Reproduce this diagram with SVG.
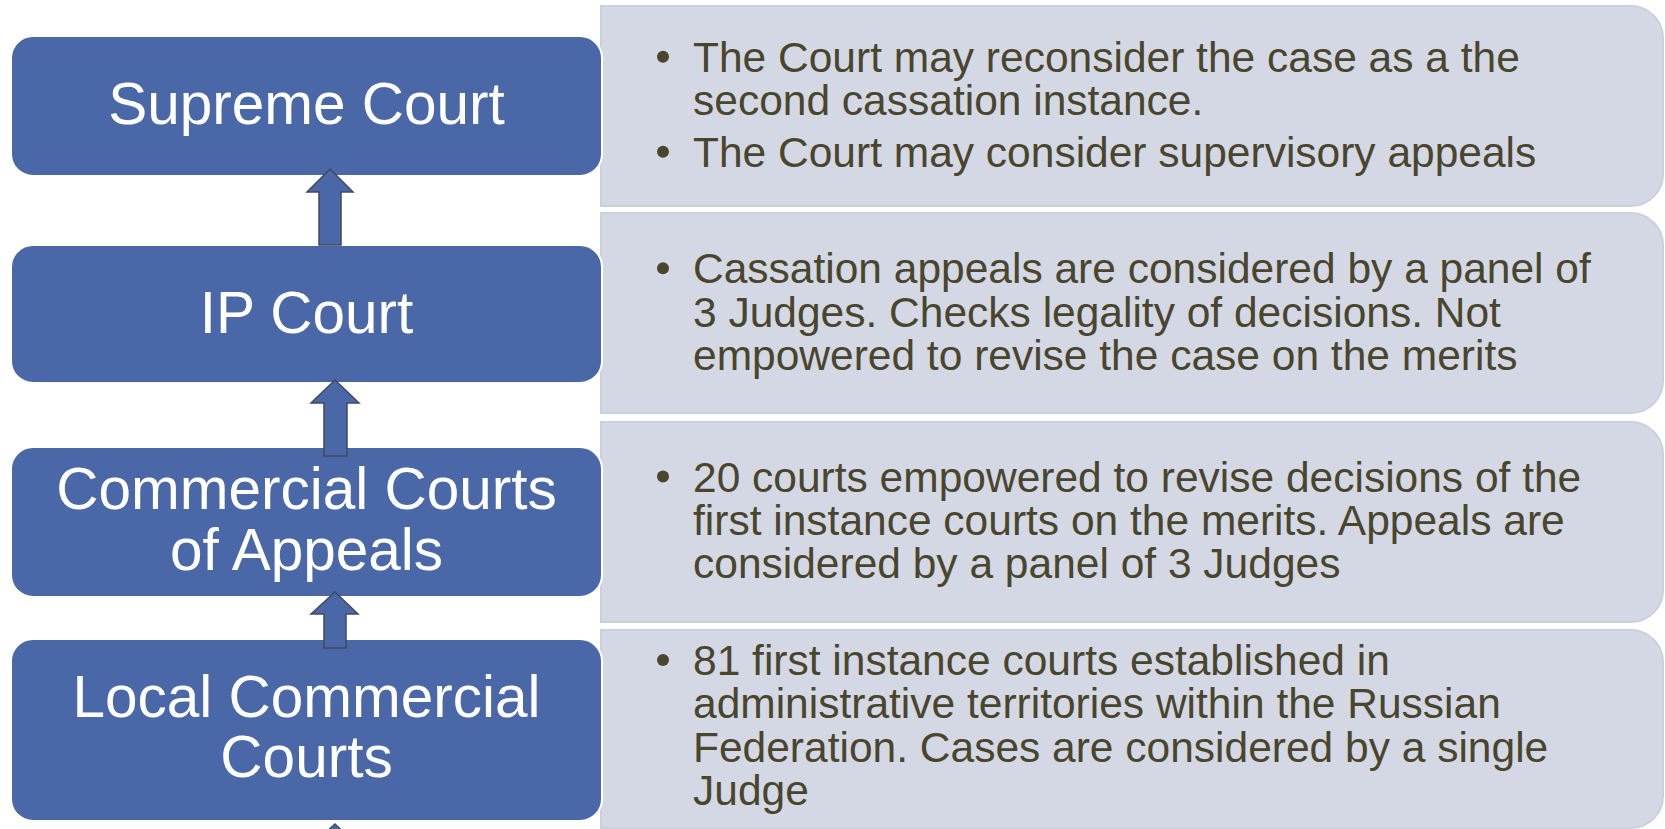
<svg xmlns="http://www.w3.org/2000/svg" width="1665" height="829" viewBox="0 0 1665 829">
<style>
.box{fill:#4a68a8;stroke:#ffffff;stroke-width:2}
.panel{fill:#d4d8e5;stroke:#cbd0df;stroke-width:2}
.bt{font-family:"Liberation Sans",Arial,sans-serif;font-size:58.5px;fill:#ffffff;text-anchor:middle}
.pt{font-family:"Liberation Sans",Arial,sans-serif;font-size:42.5px;fill:#4a452d}
.dot{fill:#4a452d}
.arr{fill:#4a68a8;stroke:#414a5c;stroke-width:1.5;stroke-linejoin:miter}
</style>
<rect width="1665" height="829" fill="#ffffff"/>
<g id="panel-supreme">
<path class="panel" d="M601,6 H1631 A32,32 0 0 1 1663,38 V174 A32,32 0 0 1 1631,206 H601 Z"/>
<circle class="dot" cx="663" cy="56.7" r="6"/>
<text class="pt" x="693" y="71.7">The Court may reconsider the case as a the</text>
<text class="pt" x="693" y="115">second cassation instance.</text>
<circle class="dot" cx="663" cy="151.7" r="6"/>
<text class="pt" x="693" y="166.7">The Court may consider supervisory appeals</text>
</g>
<g id="panel-ip">
<path class="panel" d="M601,213 H1631 A32,32 0 0 1 1663,245 V381 A32,32 0 0 1 1631,413 H601 Z"/>
<circle class="dot" cx="663" cy="268.3" r="6"/>
<text class="pt" x="693" y="283.3">Cassation appeals are considered by a panel of</text>
<text class="pt" x="693" y="326.7">3 Judges. Checks legality of decisions. Not</text>
<text class="pt" x="693" y="370">empowered to revise the case on the merits</text>
</g>
<g id="panel-appeals">
<path class="panel" d="M601,422 H1631 A32,32 0 0 1 1663,454 V590 A32,32 0 0 1 1631,622 H601 Z"/>
<circle class="dot" cx="663" cy="476.5" r="6"/>
<text class="pt" x="693" y="491.5">20 courts empowered to revise decisions of the</text>
<text class="pt" x="693" y="534.8">first instance courts on the merits. Appeals are</text>
<text class="pt" x="693" y="578.1">considered by a panel of 3 Judges</text>
</g>
<g id="panel-local">
<path class="panel" d="M601,630 H1631 A32,32 0 0 1 1663,662 V796 A32,32 0 0 1 1631,828 H601 Z"/>
<circle class="dot" cx="663" cy="660" r="6"/>
<text class="pt" x="693" y="675">81 first instance courts established in</text>
<text class="pt" x="693" y="718.3">administrative territories within the Russian</text>
<text class="pt" x="693" y="761.6">Federation. Cases are considered by a single</text>
<text class="pt" x="693" y="804.9">Judge</text>
</g>
<g id="node-supreme">
<rect class="box" x="11" y="36" width="591" height="140" rx="22"/>
<text class="bt" x="306.5" y="123.5">Supreme Court</text>
</g>
<g id="node-ip">
<rect class="box" x="11" y="245" width="591" height="138" rx="22"/>
<text class="bt" x="306.5" y="332.5">IP Court</text>
</g>
<g id="node-appeals">
<rect class="box" x="11" y="447" width="591" height="150" rx="22"/>
<text class="bt" x="306.5" y="508.5">Commercial Courts</text>
<text class="bt" x="306.5" y="570">of Appeals</text>
</g>
<g id="node-local">
<rect class="box" x="11" y="639" width="591" height="182" rx="22"/>
<text class="bt" x="306.5" y="716.7">Local Commercial</text>
<text class="bt" x="306.5" y="776.7">Courts</text>
</g>
<g id="connectors">
<polygon class="arr" points="330,169 353,192 341,192 341,245 319,245 319,192 307,192"/>
<polygon class="arr" points="335,380 359,403 347,403 347,456 324,456 324,403 311,403"/>
<polygon class="arr" points="335,592 358,614 346,614 346,648 324,648 324,614 311,614"/>
<polygon class="arr" points="335,824 358,846 346,846 346,880 324,880 324,846 311,846"/>
</g>
</svg>
